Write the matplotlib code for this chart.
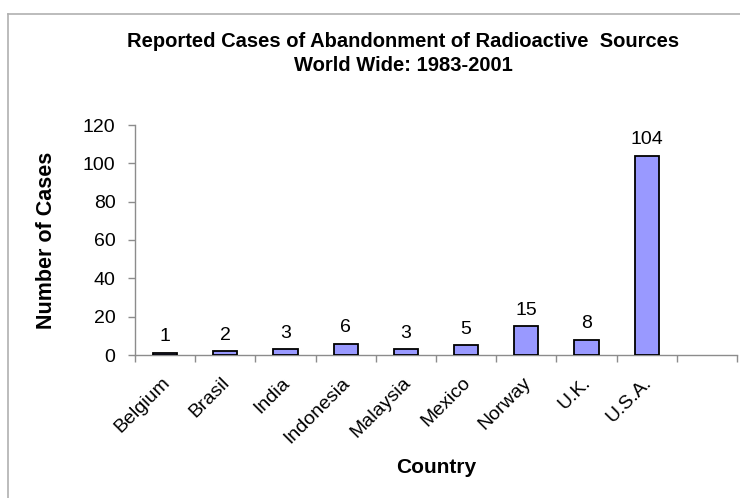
import numpy as np
import matplotlib
matplotlib.use("Agg")
import matplotlib.pyplot as plt
from matplotlib.lines import Line2D
from matplotlib.transforms import ScaledTranslation

countries = ["Belgium", "Brasil", "India", "Indonesia", "Malaysia", "Mexico", "Norway", "U.K.", "U.S.A."]
cases = [1, 2, 3, 6, 3, 5, 15, 8, 104]
n_slots = 10

plt.rcParams["font.family"] = ["Liberation Sans", "DejaVu Sans"]
gray = "#8c8c8c"

fig = plt.figure(figsize=(7.4, 4.98), dpi=100)
ax = fig.add_axes([135/740, 1-355/498, (737-135)/740, (355-125)/498])

x = np.arange(len(countries))
ax.bar(x, cases, width=0.4, color="#9999ff", edgecolor="black", linewidth=1.3, zorder=3)
for xi, v in zip(x, cases):
    ax.annotate(str(v), (xi, v), xytext=(0, 5.5), textcoords="offset points",
                ha="center", va="bottom", fontsize=14)

ax.set_xlim(-0.5, n_slots - 0.5)
ax.set_ylim(0, 120)
ax.set_yticks(range(0, 121, 20))
ax.set_xticks(np.arange(-0.5, n_slots, 1.0))
ax.set_xticklabels([])
ax.set_xticks(x, minor=True)
ax.set_xticklabels(countries, minor=True, rotation=45, ha="right", rotation_mode="anchor", fontsize=14)
ax.tick_params(axis="x", which="minor", length=0, pad=14)
ax.tick_params(axis="x", which="major", length=5, color=gray, width=1)
ax.tick_params(axis="y", length=5, color=gray, width=1, labelsize=14, pad=9)

# nudge the slanted names a little left
shift = ScaledTranslation(-4/100, 0, fig.dpi_scale_trans)
for lab in ax.get_xticklabels(minor=True):
    lab.set_transform(lab.get_transform() + shift)

for s in ["top", "right"]:
    ax.spines[s].set_visible(False)
for s in ["left", "bottom"]:
    ax.spines[s].set_color(gray)
    ax.spines[s].set_linewidth(1)

ax.set_ylabel("Number of Cases", fontsize=15.5, fontweight="bold", labelpad=19)
ax.set_xlabel("Country", fontsize=15, fontweight="bold", labelpad=8)

fig.text(403/740, 1-47/498, "Reported Cases of Abandonment of Radioactive  Sources",
         ha="center", va="baseline", fontsize=14.5, fontweight="bold")
fig.text(403/740, 1-71/498, "World Wide: 1983-2001",
         ha="center", va="baseline", fontsize=14.5, fontweight="bold")

# outer frame of the chart area
fig.add_artist(Line2D([8/740, 8/740], [0, 1-14/498], color="#b0b0b0", lw=1.2))
fig.add_artist(Line2D([8/740, 1], [1-14/498, 1-14/498], color="#b0b0b0", lw=1.2))

fig.savefig("out.png", dpi=100)
